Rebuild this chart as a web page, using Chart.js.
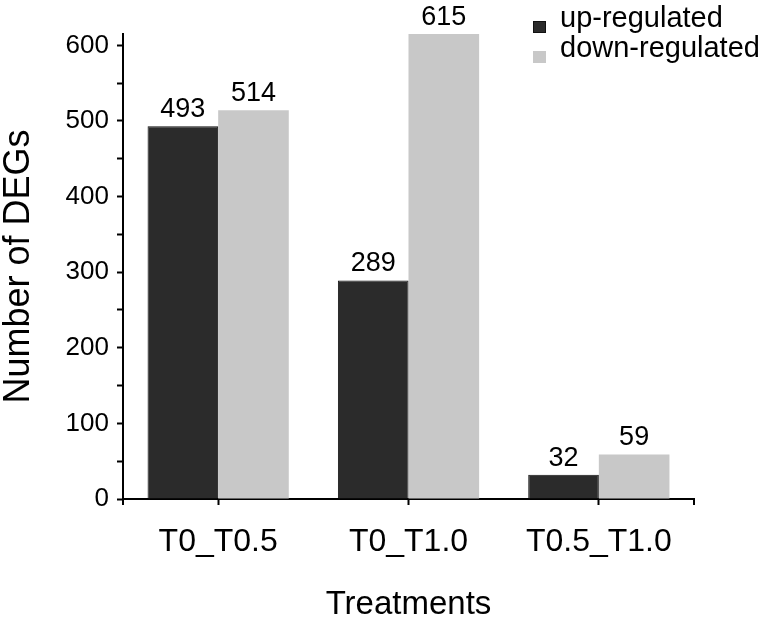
<!DOCTYPE html>
<html>
<head>
<meta charset="utf-8">
<script src="https://cdn.jsdelivr.net/npm/chart.js@4.4.1/dist/chart.umd.min.js"></script>
<style>
  html, body { margin: 0; padding: 0; background: #fff; }
  #wrap { width: 765px; height: 619px; position: relative; }
</style>
</head>
<body>
<div id="wrap"><canvas id="c" width="765" height="619"></canvas></div>
<script>
const categories = ['T0_T0.5', 'T0_T1.0', 'T0.5_T1.0'];
const upRegulated = [493, 289, 32];
const downRegulated = [514, 615, 59];
const seriesNames = ['up-regulated', 'down-regulated'];
const yMax = 615;
const yStep = 50;
const yLabelStep = 100;

const FONT = '"Liberation Sans", Arial, Helvetica, sans-serif';

const extras = {
  id: 'extras',
  afterDatasetsDraw(chart) {
    const ctx = chart.ctx;
    ctx.save();
    // value labels
    ctx.font = '27px ' + FONT;
    ctx.fillStyle = '#000';
    ctx.textAlign = 'center';
    ctx.textBaseline = 'alphabetic';
    chart.data.datasets.forEach((ds, di) => {
      const meta = chart.getDatasetMeta(di);
      meta.data.forEach((bar, i) => {
        ctx.fillText(String(ds.data[i]), bar.x, bar.y - 9);
      });
    });
    // end ticks on x axis
    const a = chart.chartArea;
    ctx.strokeStyle = '#000';
    ctx.lineWidth = 2;
    ctx.beginPath();
    ctx.moveTo(a.left, a.bottom);
    ctx.lineTo(a.left, a.bottom + 6);
    ctx.moveTo(a.right, a.bottom);
    ctx.lineTo(a.right, a.bottom + 6);
    ctx.stroke();
    // legend
    ctx.font = '29px ' + FONT;
    ctx.textAlign = 'left';
    chart.data.datasets.forEach((ds, di) => {
      const baseY = 27 + di * 30;
      ctx.fillStyle = ds.backgroundColor;
      ctx.fillRect(533, baseY - 6, 13, 12);
      if (di === 0) {
        ctx.strokeStyle = '#111';
        ctx.lineWidth = 1;
        ctx.strokeRect(533.5, baseY - 5.5, 12, 11);
      }
      ctx.fillStyle = '#000';
      ctx.fillText(ds.label, 560, baseY);
    });
    ctx.restore();
  }
};

new Chart(document.getElementById('c'), {
  type: 'bar',
  data: {
    labels: categories,
    datasets: [
      { label: seriesNames[0], data: upRegulated, backgroundColor: '#2b2b2b', borderColor: '#111111', borderWidth: 1 },
      { label: seriesNames[1], data: downRegulated, backgroundColor: '#c8c8c8', borderColor: '#c8c8c8', borderWidth: 0 }
    ]
  },
  options: {
    responsive: false,
    animation: false,
    devicePixelRatio: 1,
    layout: { padding: { top: 34, right: 71, left: 0, bottom: 0 } },
    datasets: { bar: { categoryPercentage: 0.742, barPercentage: 1.0 } },
    plugins: { legend: { display: false }, tooltip: { enabled: false } },
    scales: {
      x: {
        offset: true,
        border: { display: true, color: '#000', width: 2 },
        grid: { display: true, offset: false, drawOnChartArea: false, drawTicks: true, tickLength: 6, tickColor: '#000', tickWidth: 2 },
        ticks: { color: '#000', font: { family: FONT, size: 32 }, padding: 18, maxRotation: 0 },
        title: { display: true, text: 'Treatments', color: '#000', font: { family: FONT, size: 33, lineHeight: 0.84 }, padding: 0 },
        afterFit(scale) { scale.height = 120; }
      },
      y: {
        min: 0,
        max: yMax,
        border: { display: true, color: '#000', width: 2 },
        grid: { display: true, drawOnChartArea: false, drawTicks: true, tickLength: 6, tickColor: '#000', tickWidth: 2 },
        ticks: {
          stepSize: yStep,
          includeBounds: false,
          autoSkip: false,
          color: '#000',
          font: { family: FONT, size: 26 },
          padding: 8,
          callback(v) {
            if (v % yStep !== 0) return null;
            return v % yLabelStep === 0 ? String(v) : '';
          }
        },
        title: { display: true, text: 'Number of DEGs', color: '#000', font: { family: FONT, size: 36, lineHeight: 1.05 }, padding: 0 },
        afterFit(scale) { scale.width = 123; }
      }
    }
  },
  plugins: [extras]
});
</script>
</body>
</html>
